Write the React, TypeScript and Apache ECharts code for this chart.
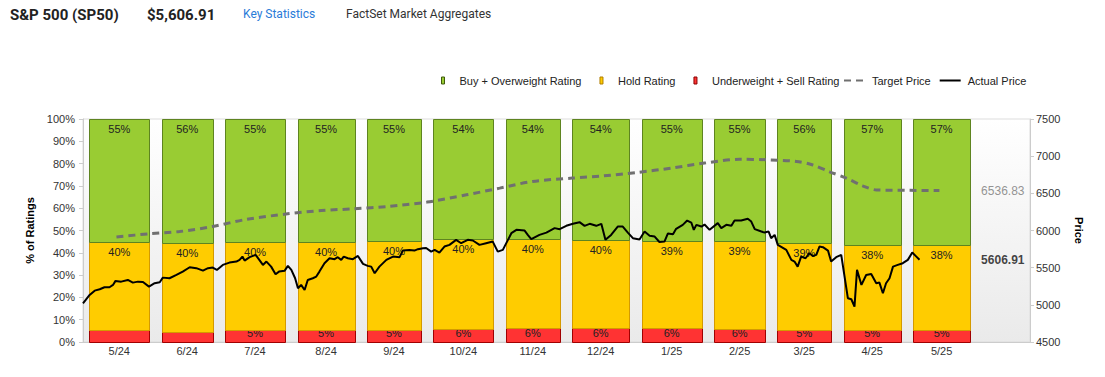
import React, { useEffect, useRef } from "react";
import * as echarts from "echarts";

// ---------- data ----------
const months = ["5/24", "6/24", "7/24", "8/24", "9/24", "10/24", "11/24", "12/24", "1/25", "2/25", "3/25", "4/25", "5/25"];
const buyPct = [55.1, 55.5, 55.1, 55.1, 54.6, 53.9, 53.8, 54.2, 54.6, 54.6, 55.5, 56.6, 56.7];
const holdPct = [39.6, 39.8, 39.6, 39.6, 40.0, 40.3, 39.9, 39.5, 39.1, 39.4, 39.1, 38.0, 38.1];
const sellPct = [5.3, 4.7, 5.3, 5.3, 5.4, 5.8, 6.3, 6.3, 6.3, 6.0, 5.4, 5.4, 5.2];
const sellLabelHidden = ["5/24", "6/24"];

const currentPrice = 5606.91;
const currentTarget = 6536.83;

// [weekday index since 2024-05-01, price]
const targetPrice: [number, number][] = [
  [10.6, 5914], [20.8, 5955], [30.6, 5986], [41, 6053], [51.8, 6150], [64.8, 6224],
  [75.5, 6269], [86, 6292], [96.5, 6323], [109, 6382], [121.5, 6480], [132, 6570],
  [142.4, 6660], [155, 6705], [165, 6736], [175.7, 6781], [186.4, 6840], [196.9, 6907],
  [208, 6958], [216.4, 6952], [226, 6929], [231, 6884], [236.5, 6790], [241.8, 6705],
  [247, 6600], [251.4, 6545], [262, 6540], [271.3, currentTarget],
];

const actualPrice: [number, number][] = [
  [0, 5020], [2.1, 5133], [3.7, 5191], [5.3, 5210], [6.8, 5237], [8.4, 5237], [9.5, 5268],
  [10.3, 5322], [12.1, 5312], [14.2, 5335], [15.8, 5299], [17.4, 5312], [19.0, 5308],
  [20.9, 5245], [22.7, 5291], [24.3, 5304], [25.3, 5366], [27.4, 5358], [29.6, 5402],
  [31.6, 5447], [33.8, 5506], [35.9, 5493], [38.0, 5460], [39.6, 5493], [41.1, 5501],
  [42.4, 5470], [44.3, 5537], [46.4, 5568], [48.6, 5582], [49.6, 5605], [50.5, 5649],
  [51.2, 5595], [52.8, 5641], [54.7, 5672], [57.0, 5537], [58.1, 5582], [59.6, 5514],
  [61.0, 5412], [62.1, 5447], [63.9, 5460], [64.9, 5524], [66.0, 5470], [67.2, 5358],
  [68.1, 5223], [69.1, 5268], [70.2, 5200], [71.2, 5335], [72.8, 5358], [73.9, 5380],
  [74.9, 5447], [76.5, 5560], [78.1, 5627], [79.7, 5614], [80.7, 5641], [81.8, 5605],
  [82.6, 5649], [83.9, 5627], [85.5, 5614], [87.1, 5658], [88.7, 5551], [90.2, 5524],
  [91.3, 5514], [92.4, 5425], [93.9, 5514], [96.1, 5605], [98.2, 5649], [100.3, 5641],
  [101.3, 5730], [103.4, 5739], [105.0, 5730], [106.1, 5749], [107.7, 5762], [108.7, 5765],
  [110.3, 5716], [111.4, 5739], [112.9, 5703], [114.5, 5784], [116.1, 5807], [118.2, 5874],
  [119.8, 5829], [121.9, 5874], [123.5, 5865], [125.6, 5807], [127.7, 5829], [129.8, 5851],
  [131.4, 5716], [133.0, 5739], [135.7, 5964], [137.3, 6009], [139.9, 5999], [140.9, 5941],
  [142.0, 5883], [144.6, 5941], [146.8, 5972], [149.4, 6032], [151.0, 6018], [153.1, 6063],
  [155.2, 6090], [157.3, 6112], [158.9, 6063], [160.5, 6090], [162.6, 6063], [164.2, 6090],
  [165.5, 5874], [167.3, 5941], [169.4, 6053], [171.0, 6053], [172.6, 5972], [174.2, 5897],
  [176.3, 5880], [177.9, 5986], [179.5, 5930], [181.1, 5918], [182.6, 5845], [184.2, 5851],
  [185.3, 5960], [186.9, 5950], [187.9, 6022], [190.0, 6076], [191.4, 6134], [192.7, 6107],
  [193.5, 6009], [194.3, 6076], [195.9, 6053], [196.9, 6080], [198.5, 6009], [201.1, 6099],
  [202.2, 6032], [203.8, 6076], [205.4, 6063], [206.4, 6134], [208.5, 6134], [210.6, 6157],
  [211.7, 6120], [212.8, 6018], [214.9, 5986], [215.9, 5972], [217.2, 5986], [218.0, 5897],
  [219.1, 5941], [220.1, 5807], [222.8, 5739], [224.4, 5605], [225.4, 5582], [226.4, 5514],
  [227.5, 5649], [228.9, 5627], [230.1, 5695], [231.2, 5658], [232.3, 5672], [233.3, 5784],
  [234.4, 5776], [236.0, 5730], [237.0, 5582], [238.6, 5641], [240.2, 5672], [242.3, 5089],
  [243.4, 5075], [244.4, 4976], [245.2, 5470], [246.6, 5268], [248.1, 5402], [249.7, 5416],
  [251.3, 5291], [252.3, 5299], [253.4, 5156], [254.4, 5291], [255.5, 5358], [256.6, 5514],
  [258.1, 5537], [259.7, 5560], [261.3, 5605], [262.7, 5703], [264.0, 5649], [265.0, currentPrice],
];

// ---------- derived calendar (weekdays per month) ----------
function weekdaysIn(label: string): number {
  const [m, y] = label.split("/").map(Number);
  const year = 2000 + y;
  const days = new Date(year, m, 0).getDate();
  let n = 0;
  for (let d = 1; d <= days; d++) {
    const wd = new Date(year, m - 1, d).getDay();
    if (wd !== 0 && wd !== 6) n++;
  }
  return n;
}

const FONT = "'Liberation Sans', Arial, sans-serif";
const X_MAX = 300;
const BAR_INSET = 2;

export default function App() {
  const ref = useRef<HTMLDivElement>(null);
  useEffect(() => {
    if (!ref.current) return;
    const chart = echarts.init(ref.current, undefined, { renderer: "svg" });

    const starts: number[] = [];
    let acc = 0;
    const counts = months.map(weekdaysIn);
    counts.forEach((c) => {
      starts.push(acc);
      acc += c;
    });
    const barData = months.map((_, i) => [
      starts[i] + BAR_INSET,
      starts[i] + counts[i] - BAR_INSET,
      sellPct[i],
      holdPct[i],
      buyPct[i],
    ]);

    const seg = (level: number, fill: string, stroke: string, withMonth: boolean) =>
      (params: any, api: any) => {
        const i = params.dataIndex;
        const s = api.value(2), h = api.value(3), b = api.value(4);
        const lows = [0, s, s + h];
        const vals = [s, h, b];
        const lo = lows[level];
        const hi = lo + vals[level];
        const x0 = api.coord([api.value(0), 0])[0];
        const x1 = api.coord([api.value(1), 0])[0];
        const yLo = api.coord([0, lo])[1];
        const yHi = api.coord([0, hi])[1];
        const yBase = api.coord([0, 0])[1];
        const children: any[] = [
          {
            type: "rect",
            shape: { x: Math.round(x0) + 0.5, y: Math.round(yHi) + 0.5, width: Math.round(x1 - x0), height: Math.round(yLo) - Math.round(yHi) },
            style: { fill, stroke, lineWidth: 1 },
          },
        ];
        const showLabel = !(level === 0 && sellLabelHidden.includes(months[i]));
        if (showLabel) {
          const ly = Math.min(yHi + 10, yBase - 9.5);
          children.push({
            type: "text",
            style: {
              text: Math.round(vals[level]) + "%",
              x: (x0 + x1) / 2,
              y: ly,
              align: "center",
              verticalAlign: "middle",
              textAlign: "center",
              textVerticalAlign: "middle",
              fill: "#222",
              font: `11px ${FONT}`,
            },
          });
        }
        if (withMonth) {
          children.push({
            type: "text",
            style: {
              text: months[i],
              x: (x0 + x1) / 2,
              y: yBase + 9,
              align: "center",
              verticalAlign: "middle",
              textAlign: "center",
              textVerticalAlign: "middle",
              fill: "#333",
              font: `11px ${FONT}`,
            },
          });
        }
        return { type: "group", children };
      };

    const bg = new echarts.graphic.LinearGradient(0, 0, 0, 1, [
      { offset: 0, color: "#ffffff" },
      { offset: 1, color: "#eaeaea" },
    ]);

    chart.setOption({
      animation: false,
      textStyle: { fontFamily: FONT },
      graphic: [
        { type: "text", left: 10, top: 7, style: { text: "S&P 500 (SP50)", font: "bold 15px Roboto", fill: "#222" } },
        { type: "text", left: 147, top: 7, style: { text: "$5,606.91", font: "bold 15px Roboto", fill: "#222" } },
        { type: "text", left: 243, top: 8, style: { text: "Key Statistics", font: "12px Roboto", fill: "#2a7bd8" } },
        { type: "text", left: 346, top: 8, style: { text: "FactSet Market Aggregates", font: "12px Roboto", fill: "#333" } },
      ],
      legend: [
        {
          left: 441,
          top: 75,
          padding: 0,
          itemWidth: 3,
          itemHeight: 7,
          itemGap: 18,
          selectedMode: false,
          textStyle: { fontSize: 11, color: "#222", fontFamily: FONT, padding: [0, 0, 0, 10] },
          data: [
            { name: "Buy + Overweight Rating", icon: "rect", itemStyle: { color: "#99cc33", borderColor: "#3f5a0c", borderWidth: 1 } },
            { name: "Hold Rating", icon: "rect", itemStyle: { color: "#ffcc00", borderColor: "#b07d00", borderWidth: 1 } },
            { name: "Underweight + Sell Rating", icon: "rect", itemStyle: { color: "#ff3333", borderColor: "#8a0000", borderWidth: 1 } },
          ],
        },
        {
          left: 843,
          top: 75,
          padding: 0,
          itemWidth: 21,
          itemHeight: 7,
          itemGap: 8,
          selectedMode: false,
          textStyle: { fontSize: 11, color: "#222", fontFamily: FONT, padding: [0, 0, 0, 2] },
          data: [
            { name: "Target Price", itemStyle: { opacity: 0 } },
            { name: "Actual Price", itemStyle: { opacity: 0 } },
          ],
        },
      ],
      grid: {
        left: 83,
        right: 75,
        top: 119,
        bottom: 35,
        show: true,
        borderColor: "#dddddd",
        borderWidth: 1,
        backgroundColor: bg,
      },
      xAxis: {
        type: "value",
        min: 0,
        max: X_MAX,
        axisLine: { show: true, lineStyle: { color: "#cccccc" } },
        axisTick: { show: false },
        axisLabel: { show: false },
        splitLine: { show: false },
      },
      yAxis: [
        {
          type: "value",
          min: 0,
          max: 100,
          interval: 10,
          position: "left",
          name: "% of Ratings",
          nameLocation: "middle",
          nameGap: 46,
          nameRotate: 90,
          nameTextStyle: { fontWeight: "bold", fontSize: 11, color: "#000", fontFamily: FONT },
          axisLine: { show: true, lineStyle: { color: "#cccccc" } },
          axisTick: { show: true, length: 4, lineStyle: { color: "#cccccc" } },
          axisLabel: { formatter: "{value}%", color: "#333", fontSize: 11, margin: 8, fontFamily: FONT },
          splitLine: { show: false },
        },
        {
          type: "value",
          min: 4500,
          max: 7500,
          interval: 500,
          position: "right",
          name: "Price",
          nameLocation: "middle",
          nameGap: 43,
          nameRotate: -90,
          nameTextStyle: { fontWeight: "bold", fontSize: 11, color: "#000", fontFamily: FONT },
          axisLine: { show: true, lineStyle: { color: "#cccccc" } },
          axisTick: { show: true, length: 4, lineStyle: { color: "#cccccc" } },
          axisLabel: { color: "#333", fontSize: 11, margin: 6, fontFamily: FONT, formatter: (v: number) => String(v) },
          splitLine: { show: false },
        },
      ],
      series: [
        {
          name: "Underweight + Sell Rating",
          type: "custom",
          xAxisIndex: 0,
          yAxisIndex: 0,
          clip: false,
          z: 2,
          itemStyle: { color: "#ff3333" },
          renderItem: seg(0, "#ff3333", "#a00000", true),
          data: barData,
        },
        {
          name: "Hold Rating",
          type: "custom",
          xAxisIndex: 0,
          yAxisIndex: 0,
          clip: false,
          z: 2,
          itemStyle: { color: "#ffcc00" },
          renderItem: seg(1, "#ffcc00", "#d49a00", false),
          data: barData,
        },
        {
          name: "Buy + Overweight Rating",
          type: "custom",
          xAxisIndex: 0,
          yAxisIndex: 0,
          clip: false,
          z: 2,
          itemStyle: { color: "#99cc33" },
          renderItem: seg(2, "#99cc33", "#5e8420", false),
          data: barData,
        },
        {
          name: "Target Price",
          type: "line",
          xAxisIndex: 0,
          yAxisIndex: 1,
          z: 5,
          symbol: "none",
          smooth: 0.3,
          lineStyle: { color: "#707070", width: 3, type: [7, 5] },
          itemStyle: { color: "#707070" },
          data: targetPrice,
        },
        {
          name: "Actual Price",
          type: "line",
          xAxisIndex: 0,
          yAxisIndex: 1,
          z: 6,
          symbol: "none",
          lineStyle: { color: "#000000", width: 2 },
          itemStyle: { color: "#000000" },
          data: actualPrice,
        },
        {
          name: "endLabels",
          type: "scatter",
          xAxisIndex: 0,
          yAxisIndex: 1,
          z: 7,
          symbolSize: 1,
          silent: true,
          itemStyle: { color: "rgba(0,0,0,0)" },
          label: { show: true, position: "left", distance: 5, fontSize: 12, fontFamily: FONT },
          data: [
            { value: [X_MAX, currentTarget], label: { formatter: currentTarget.toFixed(2), color: "#777" } },
            { value: [X_MAX, currentPrice], label: { formatter: currentPrice.toFixed(2), color: "#111", fontWeight: "bold" } },
          ],
        },
      ],
    });
    return () => chart.dispose();
  }, []);
  return <div ref={ref} style={{ position: "absolute", left: 0, top: 0, width: 1105, height: 377 }} />;
}
